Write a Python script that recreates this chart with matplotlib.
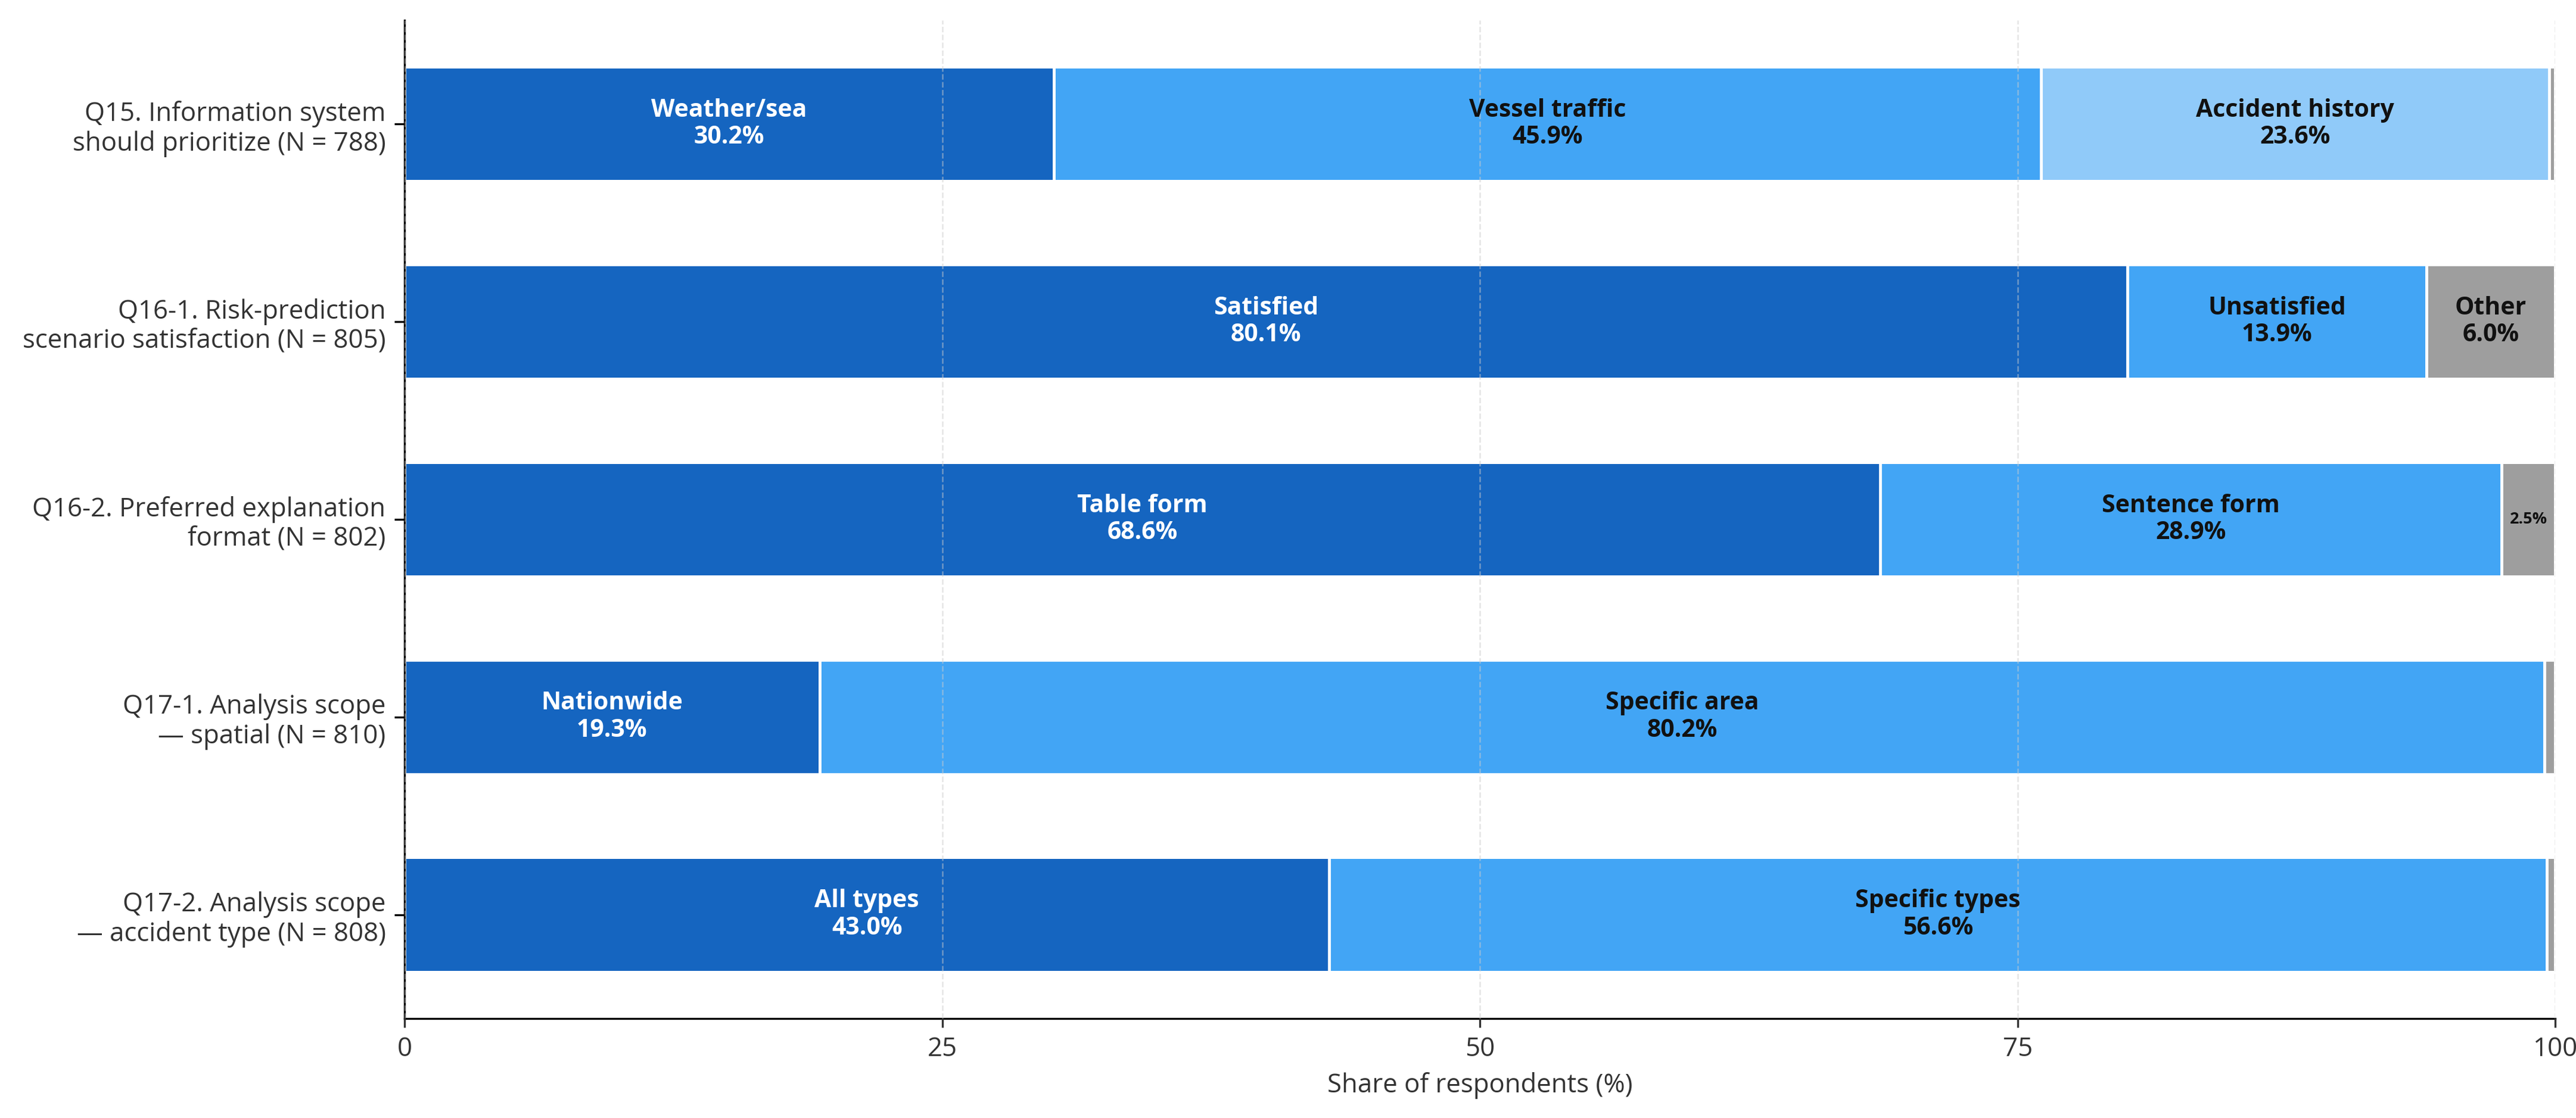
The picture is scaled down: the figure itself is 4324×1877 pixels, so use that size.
import numpy as np
import matplotlib.pyplot as plt

plt.rcParams['font.family'] = ['Open Sans', 'DejaVu Sans']

# Survey questions (top to bottom)
questions = [
    "Q15. Information system\nshould prioritize (N = 788)",
    "Q16-1. Risk-prediction\nscenario satisfaction (N = 805)",
    "Q16-2. Preferred explanation\nformat (N = 802)",
    "Q17-1. Analysis scope\n\u2014 spatial (N = 810)",
    "Q17-2. Analysis scope\n\u2014 accident type (N = 808)",
]

# Segment labels and shares (%) per question
seg_labels = [
    ["Weather/sea", "Vessel traffic", "Accident history", ""],
    ["Satisfied", "Unsatisfied", "Other"],
    ["Table form", "Sentence form", ""],
    ["Nationwide", "Specific area", ""],
    ["All types", "Specific types", ""],
]
seg_values = [
    [30.2, 45.9, 23.6, 0.3],
    [80.1, 13.9, 6.0],
    [68.6, 28.9, 2.5],
    [19.3, 80.2, 0.5],
    [43.0, 56.6, 0.4],
]
seg_colors = [
    ["#1565C0", "#42A5F5", "#90CAF9", "#9E9E9E"],
    ["#1565C0", "#42A5F5", "#9E9E9E"],
    ["#1565C0", "#42A5F5", "#9E9E9E"],
    ["#1565C0", "#42A5F5", "#9E9E9E"],
    ["#1565C0", "#42A5F5", "#9E9E9E"],
]

fig = plt.figure(figsize=(4324 / 300, 1877 / 300), dpi=300)
ax = fig.add_axes([0.157, 0.089, 0.835, 0.893])

y = np.arange(len(questions))
for i in range(len(questions)):
    left = 0.0
    for lab, val, col in zip(seg_labels[i], seg_values[i], seg_colors[i]):
        ax.barh(y[i], val, left=left, height=0.58, color=col,
                edgecolor="white", linewidth=1.2, zorder=2)
        cx = left + val / 2
        tcol = "white" if col == "#1565C0" else "#111111"
        if lab:
            ax.text(cx, y[i], f"{lab}\n{val:.1f}%", ha="center", va="center",
                    fontsize=9.8, fontweight="bold", color=tcol,
                    linespacing=1.15, zorder=4)
        elif val >= 2:
            ax.text(cx, y[i], f"{val:.1f}%", ha="center", va="center",
                    fontsize=6.5, fontweight="bold", color=tcol, zorder=4)
        left += val

ax.set_yticks(y)
ax.set_yticklabels(questions, fontsize=10.5, color="#333333", linespacing=1.15)
ax.set_ylim(len(questions) - 0.475, -0.525)
ax.set_xlim(0, 100)
ax.set_xticks([0, 25, 50, 75, 100])
ax.tick_params(axis="x", labelsize=10.5, colors="#333333")
ax.tick_params(axis="y", length=4)
ax.set_xlabel("Share of respondents (%)", fontsize=10.5, color="#333333")

ax.grid(axis="x", linestyle="--", color="#cccccc", alpha=0.5, linewidth=0.6, zorder=3)
ax.set_axisbelow(False)
for side in ["top", "right"]:
    ax.spines[side].set_visible(False)

plt.savefig("out.png", dpi=300)
